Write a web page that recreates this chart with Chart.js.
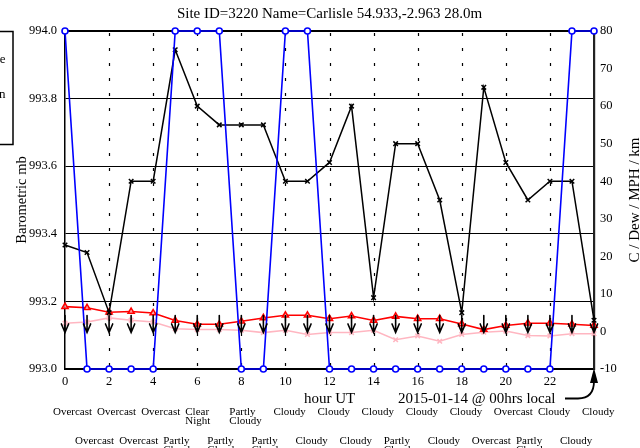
<!DOCTYPE html>
<html><head><meta charset="utf-8">
<script src="https://cdn.jsdelivr.net/npm/chart.js@4/dist/chart.umd.min.js"></script>
<style>html,body{margin:0;padding:0;background:#fff;overflow:hidden}#wrap{width:640px;height:448px;position:relative}</style>
</head><body><div id="wrap"><canvas id="c" width="640" height="448"></canvas></div>
<script>
const titleText = 'Site ID=3220 Name=Carlisle 54.933,-2.963 28.0m';
const hours = [0,1,2,3,4,5,6,7,8,9,10,11,12,13,14,15,16,17,18,19,20,21,22,23,24];
const pressureMb = [994.0,993.0,993.0,993.0,993.0,994.0,994.0,994.0,993.0,993.0,994.0,994.0,993.0,993.0,993.0,993.0,993.0,993.0,993.0,993.0,993.0,993.0,993.0,994.0,994.0];
const visibilityKm = [23,21,5,40,40,75,60,55,55,55,40,40,45,60,9,50,50,35,5,65,45,35,40,40,3];
const temperatureC = [6.6,6.3,5.1,5.3,4.9,2.9,1.9,1.9,2.7,3.6,4.3,4.3,3.4,4.1,2.9,4.0,3.4,3.4,2.0,0.5,1.6,2.2,2.2,1.9,1.6];
const dewPointC = [2.2,2.5,3.6,3.0,2.5,0.7,0.5,0.5,0.3,-0.3,0.3,-0.8,-0.3,-0.3,0.3,-2.2,-1.2,-2.6,-0.8,-0.2,0.1,-1.1,-1.2,-0.6,-0.6];
const windSpeedMph = [0,0,0,0,0,0,0,0,0,0,0,0,0,0,0,0,0,0,0,0,0,0,0,0,0];
const windFromDeg = [0,0,0,0,0,0,0,0,0,0,0,0,0,0,0,0,0,0,0,0,0,0,0,0,0];
const weatherEven = ['Overcast','Overcast','Overcast','Clear Night','Partly Cloudy','Cloudy','Cloudy','Cloudy','Cloudy','Cloudy','Overcast','Cloudy','Cloudy'];
const weatherOdd = ['Overcast','Overcast','Partly Cloudy','Partly Cloudy','Partly Cloudy','Cloudy','Cloudy','Partly Cloudy','Cloudy','Overcast','Partly Cloudy','Cloudy'];
const leftTicks = {min:993.0, max:994.0, step:0.2};
const rightTicks = {min:-10, max:80, step:10};
const xTicks = {min:0, max:24, step:2};
const leftTitle = 'Barometric mb';
const rightTitle = 'C / Dew / MPH / km';
const xTitle = 'hour UT';
const localNote = '2015-01-14 @ 00hrs local';
const legendTail = ['e','n'];

const SERIF = '"Liberation Serif", "Times New Roman", serif';
const pts = arr => hours.map((h,i)=>({x:h,y:arr[i]}));

const overlay = {
  id:'overlay',
  beforeDatasetsDraw(chart){
    const {ctx, chartArea:a, scales:{x}} = chart;
    ctx.save();
    ctx.strokeStyle='#000'; ctx.lineWidth=1.2;
    ctx.setLineDash([3,12]); ctx.lineDashOffset=13;
    for(let v=xTicks.min+xTicks.step; v<xTicks.max; v+=xTicks.step){
      const px=Math.round(x.getPixelForValue(v))+0.5;
      ctx.beginPath(); ctx.moveTo(px,a.top); ctx.lineTo(px,a.bottom); ctx.stroke();
    }
    ctx.restore();
  },
  afterDatasetsDraw(chart){
    const {ctx, scales:{x,y1}} = chart;
    ctx.save();
    ctx.strokeStyle='#000'; ctx.lineWidth=1.6; ctx.lineCap='round';
    hours.forEach((h,i)=>{
      const px=x.getPixelForValue(h), py=y1.getPixelForValue(windSpeedMph[i])+1;
      ctx.save(); ctx.translate(px,py); ctx.rotate(windFromDeg[i]*Math.PI/180);
      ctx.beginPath(); ctx.moveTo(0,0); ctx.lineTo(0,-17);
      ctx.moveTo(-3.6,-8.5); ctx.lineTo(0,0); ctx.lineTo(3.6,-8.5);
      ctx.stroke(); ctx.restore();
    });
    ctx.restore();
  },
  afterDraw(chart){
    const {ctx, chartArea:a, scales:{x}} = chart;
    ctx.save();
    ctx.fillStyle='#000';
    // title
    ctx.font='15px '+SERIF; ctx.textAlign='center'; ctx.textBaseline='middle';
    ctx.fillText(titleText,(a.left+a.right)/2,14);
    // x title & note
    ctx.fillText(xTitle,(a.left+a.right)/2,399);
    ctx.textAlign='left';
    ctx.fillText(localNote,398,399);
    // annotation arrow
    const tipX=x.getPixelForValue(xTicks.max);
    ctx.strokeStyle='#000'; ctx.lineWidth=1.8;
    ctx.beginPath(); ctx.moveTo(565,398.5); ctx.lineTo(578,398.5);
    ctx.quadraticCurveTo(tipX,398.5,tipX,381); ctx.stroke();
    ctx.beginPath(); ctx.moveTo(tipX-4,383); ctx.lineTo(tipX,a.bottom-1); ctx.lineTo(tipX+4,383); ctx.closePath(); ctx.fill();
    // left axis title
    ctx.save(); ctx.translate(22,(a.top+a.bottom)/2); ctx.rotate(-Math.PI/2);
    ctx.font='14.5px '+SERIF; ctx.textAlign='center'; ctx.textBaseline='middle';
    ctx.fillText(leftTitle,0,0); ctx.restore();
    // right axis title
    ctx.save(); ctx.translate(638.5,(a.top+a.bottom)/2); ctx.rotate(-Math.PI/2);
    ctx.font='15px '+SERIF; ctx.textAlign='center'; ctx.textBaseline='alphabetic';
    ctx.fillText(rightTitle,0,0); ctx.restore();
    // weather labels
    ctx.font='11px '+SERIF; ctx.textAlign='left'; ctx.textBaseline='middle';
    const drawW=(label,h,y0)=>{
      const px=x.getPixelForValue(h)-12;
      const parts=label.split(' ');
      parts.forEach((p,k)=>ctx.fillText(p,px,y0+k*9));
    };
    weatherEven.forEach((w,i)=>drawW(w,i*2,412));
    weatherOdd.forEach((w,i)=>drawW(w,i*2+1,441));
    // clipped legend box at left
    ctx.strokeStyle='#000'; ctx.lineWidth=1.5;
    ctx.strokeRect(-2,31.5,15,113);
    ctx.font='13px '+SERIF; ctx.textAlign='right';
    ctx.fillText(legendTail[0],5.5,60);
    ctx.fillText(legendTail[1],5.5,95);
    ctx.restore();
  }
};

new Chart(document.getElementById('c'),{
  type:'line',
  data:{datasets:[
    {label:'Pressure mb',data:pts(pressureMb),yAxisID:'y',borderColor:'#0000ff',borderWidth:1.6,
     pointStyle:'circle',pointRadius:3,pointBackgroundColor:'#ffffff',pointBorderColor:'#0000ff',pointBorderWidth:1.6,tension:0,clip:false,order:1},
    {label:'Visibility km',data:pts(visibilityKm),yAxisID:'y1',borderColor:'#000000',borderWidth:1.5,
     pointStyle:'crossRot',pointRadius:3.2,pointBorderColor:'#000000',pointBorderWidth:1.5,tension:0,clip:false,order:2},
    {label:'Temperature C',data:pts(temperatureC),yAxisID:'y1',borderColor:'#ff0000',borderWidth:1.6,
     pointStyle:'triangle',pointRadius:3.5,pointBackgroundColor:'rgba(255,255,255,0.6)',pointBorderColor:'#ff0000',pointBorderWidth:1.6,tension:0,clip:false,order:3},
    {label:'Dew C',data:pts(dewPointC),yAxisID:'y1',borderColor:'#ffb6c1',borderWidth:1.6,
     pointStyle:'crossRot',pointRadius:3.2,pointBorderColor:'#ffb6c1',pointBorderWidth:1.6,tension:0,clip:false,order:4}
  ]},
  options:{
    responsive:false,animation:false,devicePixelRatio:1,
    layout:{padding:{top:31,left:0,right:0,bottom:0}},
    plugins:{legend:{display:false},title:{display:false},tooltip:{enabled:false}},
    scales:{
      x:{type:'linear',min:xTicks.min,max:xTicks.max,
         ticks:{stepSize:xTicks.step,padding:5,color:'#000',font:{family:SERIF,size:12.5},maxRotation:0,
                callback:v=>v===xTicks.max?'':String(v)},
         grid:{display:false,drawTicks:false},border:{color:'#000',width:2},
         afterFit(s){s.height=79;}},
      y:{position:'left',min:leftTicks.min,max:leftTicks.max,
         ticks:{stepSize:leftTicks.step,padding:8,color:'#000',font:{family:SERIF,size:12.5},callback:v=>Number(v).toFixed(1)},
         grid:{color:'#000',lineWidth:c=>(c.tick&&Math.abs(c.tick.value-leftTicks.max)<1e-6)?2:1,drawTicks:false},
         border:{color:'#000',width:1.5},
         afterFit(s){s.width=65;}},
      y1:{position:'right',min:rightTicks.min,max:rightTicks.max,
         ticks:{stepSize:rightTicks.step,padding:6,color:'#000',font:{family:SERIF,size:12.5}},
         grid:{drawOnChartArea:false,drawTicks:false},border:{color:'#222',width:2.2},
         afterFit(s){s.width=46;}}
    }
  },
  plugins:[overlay]
});
</script></body></html>
